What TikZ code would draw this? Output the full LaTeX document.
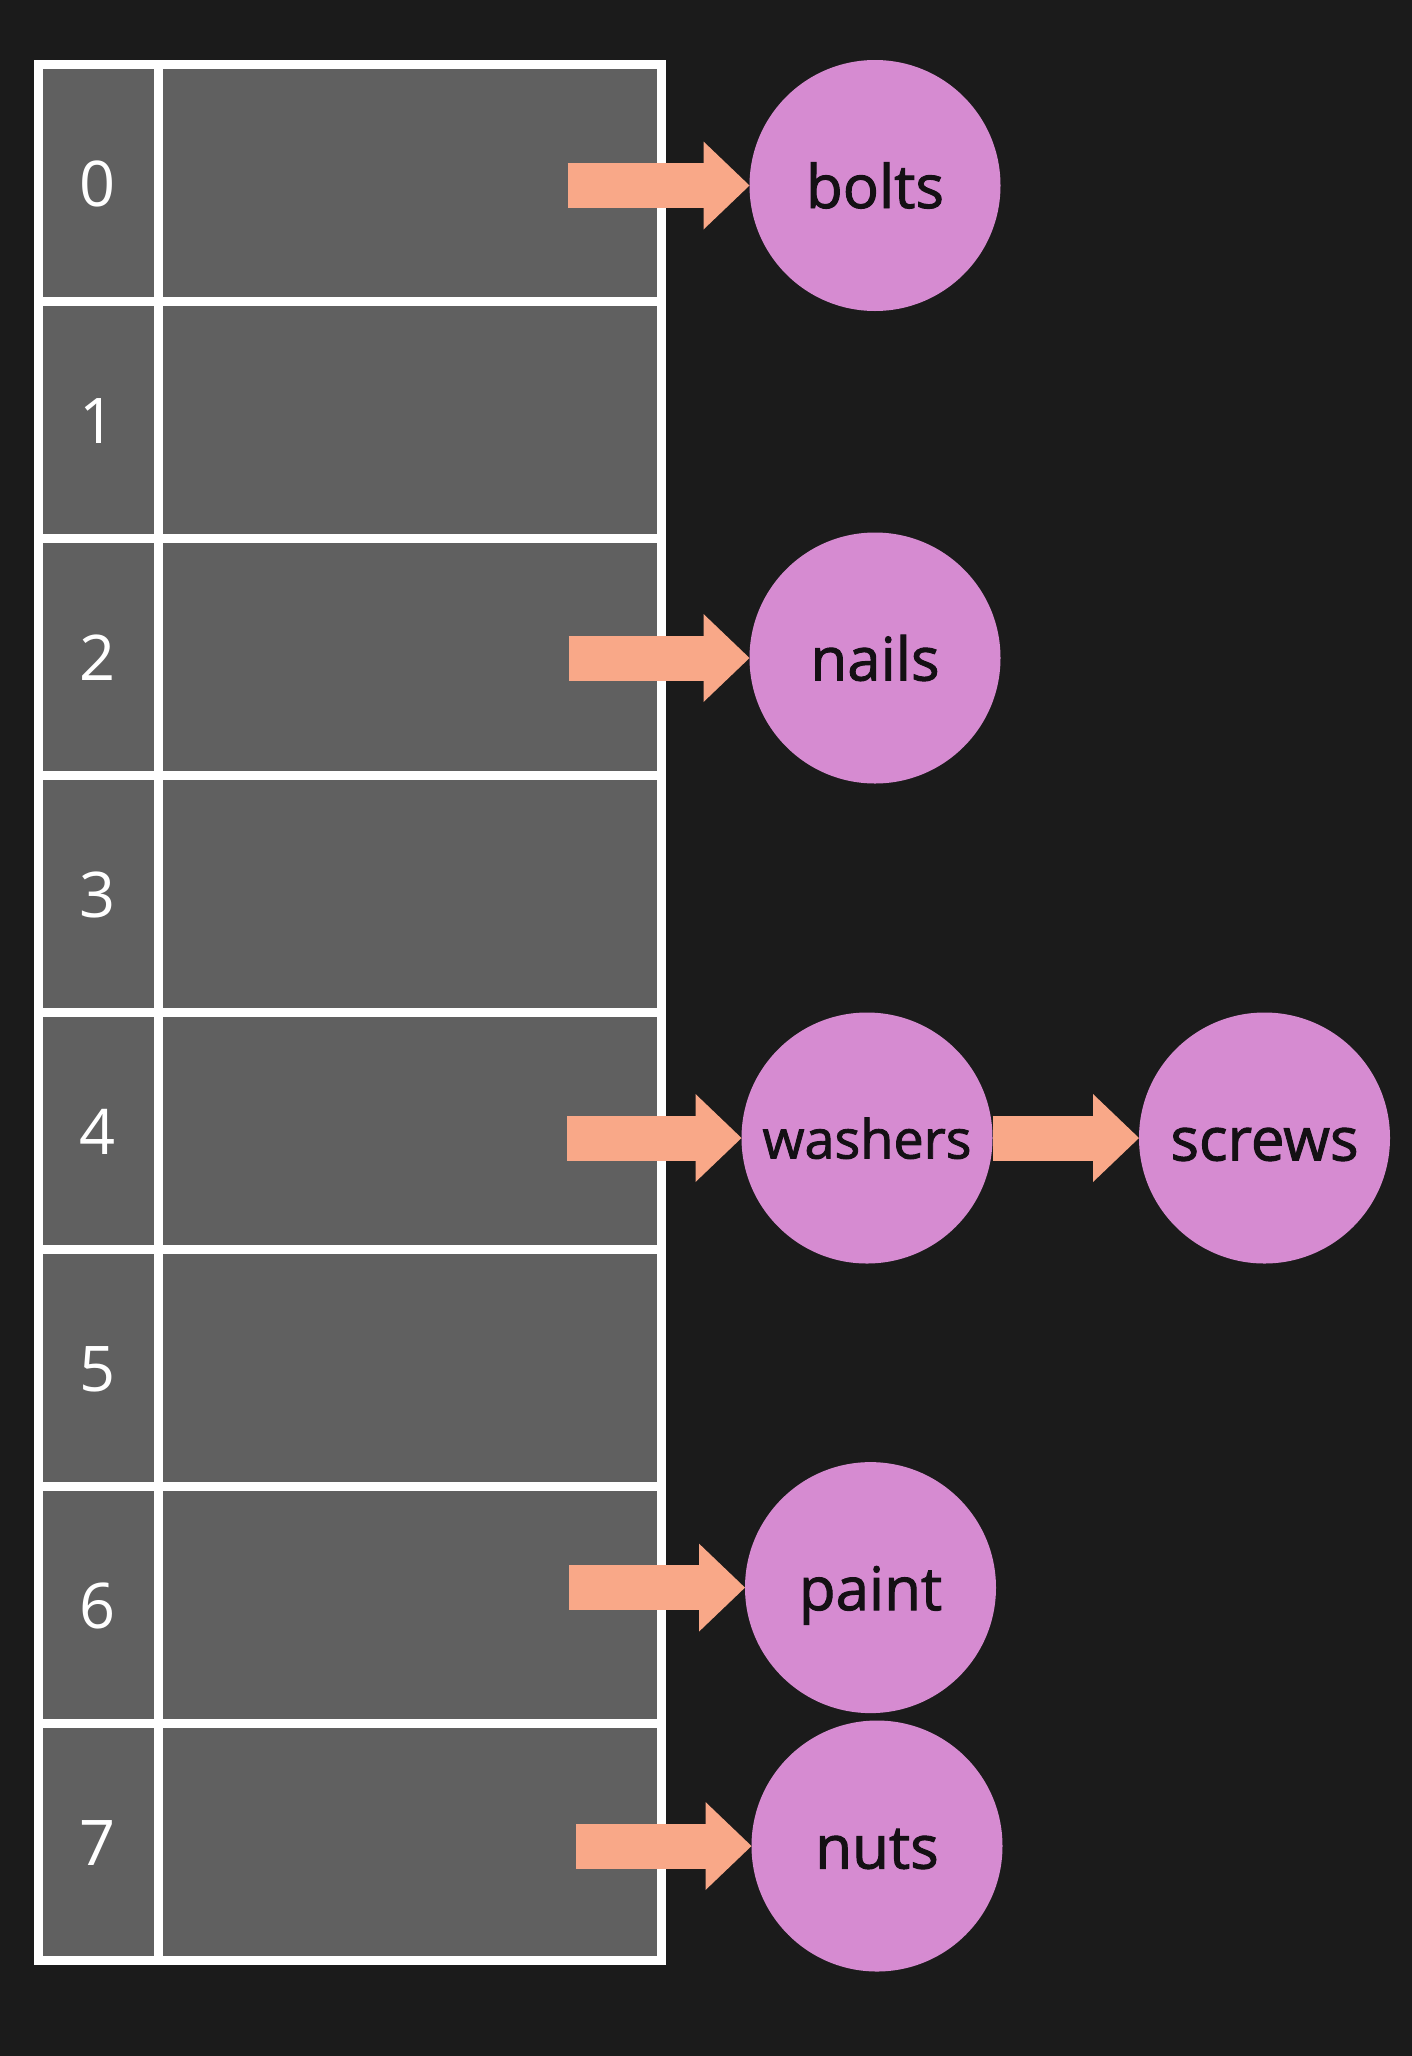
\documentclass[tikz,border=0pt]{standalone}
\usepackage{fontspec}
\setmainfont{Open Sans}
\newfontfamily\itemfont[FakeBold=1.6]{Open Sans}
\usetikzlibrary{calc,arrows.meta}
\definecolor{bg}{HTML}{1B1B1B}
\definecolor{cellgray}{HTML}{606060}
\definecolor{orchidc}{HTML}{D68BD1}
\definecolor{peach}{HTML}{F9A888}
\definecolor{ink}{HTML}{141014}
\begin{document}
\begin{tikzpicture}[x=0.5pt,y=-0.5pt,
  item/.style={circle, fill=orchidc, minimum size=125.5pt, inner sep=0pt, outer sep=0pt,
    text=ink, font=\itemfont\fontsize{30pt}{36pt}\selectfont, text height=22.5pt, text depth=0pt},
  smallitem/.style={item, font=\itemfont\fontsize{27pt}{32pt}\selectfont, text height=20.5pt},
  idx/.style={text=white, font=\fontsize{31.5pt}{38pt}\selectfont, text height=24pt, text depth=0pt, inner sep=0pt},
  link/.style={draw=peach, line width=22.5pt, -{Triangle[length=23pt,width=44pt,line width=0pt]}},
  gridline/.style={draw=white, line width=4.5pt}]
\fill[bg] (0,0) rectangle (1412,2056);
\useasboundingbox (0,0) rectangle (1412,2056);
% table
\fill[cellgray] (38,64) rectangle (661,1960);
\draw[gridline] (38,64) rectangle (661,1960);
\draw[gridline] (158,64) -- (158,1960);
\foreach \k in {1,...,7} \draw[gridline] (38,{64+\k*237}) -- (661,{64+\k*237});
\foreach \k in {0,...,7} \node[idx] (i\k) at (98,{182.5+\k*237}) {\k};
% items
\node[item] (bolts) at (875,185.5) {bolts};
\node[item] (nails) at (875,658) {nails};
\node[smallitem] (washers) at (867,1138) {washers};
\node[item] (screws) at (1264.5,1138) {screws};
\node[item] (paint) at (870.5,1587.6) {paint};
\node[item] (nuts) at (877,1846) {nuts};
% arrow tails
\coordinate (s0) at ($(bolts.west)+(-182,0)$);
\coordinate (s2) at ($(nails.west)+(-181,0)$);
\coordinate (s4) at ($(washers.west)+(-174.5,0)$);
\coordinate (s6) at ($(paint.west)+(-176,0)$);
\coordinate (s7) at ($(nuts.west)+(-175.5,0)$);
\draw[link] (s0) -- (bolts.west);
\draw[link] (s2) -- (nails.west);
\draw[link] (s4) -- (washers.west);
\draw[link] (washers.east) -- (screws.west);
\draw[link] (s6) -- (paint.west);
\draw[link] (s7) -- (nuts.west);
\end{tikzpicture}
\end{document}
